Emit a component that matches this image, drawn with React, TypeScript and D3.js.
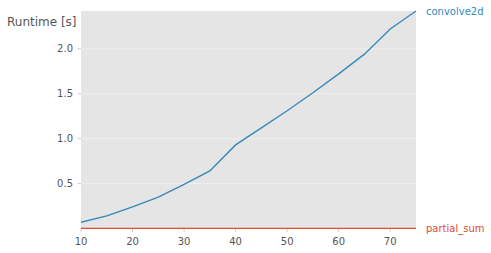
import React from "react";
import * as d3 from "d3";

const sizes = [10, 15, 20, 25, 30, 35, 40, 45, 50, 55, 60, 65, 70, 75];
const convolve2d = [0.069, 0.14, 0.24, 0.35, 0.49, 0.64, 0.93, 1.12, 1.31, 1.51, 1.72, 1.94, 2.22, 2.42];
const partialSum = [0.001, 0.001, 0.001, 0.001, 0.001, 0.001, 0.001, 0.001, 0.001, 0.001, 0.001, 0.001, 0.001, 0.001];
const xTicks = [10, 20, 30, 40, 50, 60, 70];
const yTicks = [0.5, 1.0, 1.5, 2.0];
const seriesNames = ["convolve2d", "partial_sum"];
const seriesColors = ["#348ABD", "#E24A33"];

export default function App() {
  const W = 491, H = 253;
  const left = 81, right = 416, top = 11, bottom = 228.5;
  const x = d3.scaleLinear().domain([10, 75]).range([left, right]);
  const y = d3.scaleLinear().domain([0, 2.42]).range([bottom, top]);
  const line = d3.line<number>().x((_, i) => x(sizes[i])).y((d) => y(d));
  const series = [convolve2d, partialSum];
  const font = "DejaVu Sans, sans-serif";
  return (
    <svg width={W} height={H} style={{ position: "absolute", left: 0, top: 0 }} fontFamily={font}>
      <rect x={left} y={top} width={right - left} height={bottom - top} fill="#E5E5E5" />
      {yTicks.map((t) => (
        <g key={t}>
          <line x1={left} x2={right} y1={y(t)} y2={y(t)} stroke="#EFEFEF" strokeWidth={1} />
          <line x1={left - 3.5} x2={left} y1={y(t)} y2={y(t)} stroke="#D0D0D0" strokeWidth={1} />
          <text x={left - 8} y={y(t)} dy="0.35em" textAnchor="end" fontSize={10} fill="#555">
            {t.toFixed(1)}
          </text>
        </g>
      ))}
      {xTicks.map((t) => (
        <g key={t}>
          <line x1={x(t)} x2={x(t)} y1={bottom} y2={bottom + 3.5} stroke="#D0D0D0" strokeWidth={1} />
          <text x={x(t)} y={bottom + 13} dy="0.35em" textAnchor="middle" fontSize={10} fill="#555">
            {t}
          </text>
        </g>
      ))}
      {series.map((s, i) => (
        <g key={seriesNames[i]}>
          <path d={line(s) || ""} fill="none" stroke={seriesColors[i]} strokeWidth={1.4} />
          <text x={426} y={y(s[s.length - 1])} dy="0.35em" fontSize={10} fill={seriesColors[i]}>
            {seriesNames[i]}
          </text>
        </g>
      ))}
      <text x={7} y={22} dy="0.35em" fontSize={12} fill="#555">Runtime [s]</text>
    </svg>
  );
}
